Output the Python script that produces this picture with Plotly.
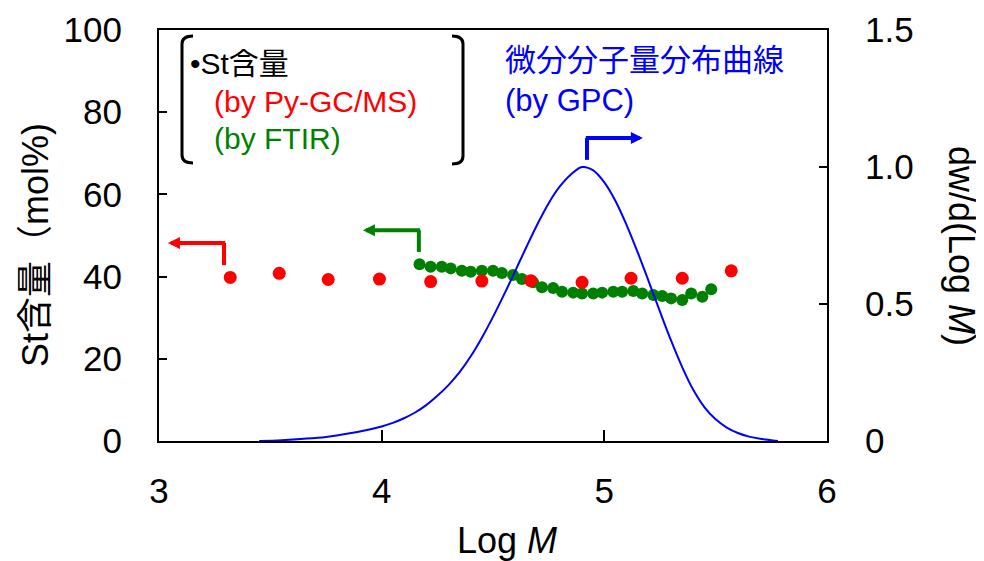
import plotly.graph_objects as go

# ---------------- data ----------------
pygc_logm = [3.32, 3.54, 3.76, 3.99, 4.22, 4.45, 4.67, 4.90, 5.12, 5.35, 5.57]
pygc_st = [39.8, 40.8, 39.3, 39.4, 38.8, 38.9, 39.0, 38.6, 39.6, 39.6, 41.4]

ftir_logm = [4.17, 4.22, 4.27, 4.31, 4.36, 4.40, 4.45, 4.50, 4.54, 4.59,
             4.63, 4.68, 4.72, 4.77, 4.81, 4.86, 4.90, 4.95, 4.99, 5.04,
             5.08, 5.13, 5.17, 5.22, 5.26, 5.30, 5.35, 5.39, 5.44, 5.48]
ftir_st = [43.0, 42.4, 42.4, 42.0, 41.4, 41.2, 41.4, 41.4, 40.9, 40.4,
           39.4, 38.6, 37.4, 37.2, 36.3, 36.1, 35.9, 35.9, 36.1, 36.3,
           36.3, 36.5, 35.9, 35.5, 35.3, 34.7, 34.3, 35.9, 35.1, 36.9]

gpc_logm = [3.45, 3.55, 3.65, 3.75, 3.85, 3.95, 4.00, 4.05, 4.10, 4.15, 4.20, 4.25,
            4.30, 4.35, 4.40, 4.45, 4.50, 4.55, 4.60, 4.65, 4.70, 4.75, 4.80, 4.85,
            4.90, 4.95, 5.00, 5.05, 5.10, 5.15, 5.20, 5.25, 5.30, 5.35, 5.40, 5.45,
            5.50, 5.55, 5.60, 5.65, 5.70, 5.78]
gpc_dw = [0.000, 0.003, 0.008, 0.015, 0.027, 0.043, 0.053, 0.066, 0.083, 0.104, 0.131, 0.165,
          0.204, 0.251, 0.309, 0.377, 0.453, 0.535, 0.621, 0.708, 0.792, 0.868, 0.929, 0.973,
          1.000, 0.988, 0.944, 0.876, 0.788, 0.688, 0.581, 0.472, 0.366, 0.269, 0.186, 0.123,
          0.079, 0.049, 0.029, 0.016, 0.008, 0.000]

x_ticks = [3, 4, 5, 6]
y_ticks = [0, 20, 40, 60, 80, 100]
y2_ticks = [0, 0.5, 1.0, 1.5]
y2_ticktext = ["0", "0.5", "1.0", "1.5"]

# ---------------- layout geometry (page pixels) ----------------
OFF = 8                      # default body margin of the page
W, H = 984 - OFF, 561 - OFF
L, R, T, B = 159, 827, 30, 441
FONT = "Liberation Sans, Arial, Noto Sans CJK JP, sans-serif"
RED, GREEN, BLUE = "#FF0000", "#008000", "#0000FF"


def px(xp):
    return (xp - L) / (R - L)


def py(yp):
    return (B - yp) / (B - T)


fig = go.Figure()
fig.add_trace(go.Scatter(x=ftir_logm, y=ftir_st, mode="markers",
                         marker=dict(color=GREEN, size=12), showlegend=False))
fig.add_trace(go.Scatter(x=pygc_logm, y=pygc_st, mode="markers",
                         marker=dict(color=RED, size=13), showlegend=False))
fig.add_trace(go.Scatter(x=gpc_logm, y=gpc_dw, mode="lines", yaxis="y2",
                         line=dict(color=BLUE, width=2, shape="spline", smoothing=1.0),
                         showlegend=False))

axis_font = dict(family=FONT, size=35, color="black")

fig.update_layout(
    width=W, height=H,
    margin=dict(l=L - OFF, r=W - (R - OFF), t=T - OFF, b=H - (B - OFF), pad=0,
                autoexpand=False),
    plot_bgcolor="white", paper_bgcolor="white",
    font=dict(family=FONT, color="black"),
    xaxis=dict(range=[3, 6], tickvals=x_ticks, ticks="inside", ticklen=11, tickwidth=1.5,
               tickcolor="black", showline=True, linecolor="black", linewidth=2,
               mirror=True, showgrid=False, zeroline=False, tickfont=axis_font,
               ticklabelstandoff=18, automargin=False),
    yaxis=dict(range=[0, 100], tickvals=y_ticks, ticks="inside", ticklen=8, tickwidth=1.5,
               tickcolor="black", showline=True, linecolor="black", linewidth=2,
               showgrid=False, zeroline=False, tickfont=axis_font, ticklabelstandoff=28,
               automargin=False),
    yaxis2=dict(range=[0, 1.5], tickvals=y2_ticks, ticktext=y2_ticktext, overlaying="y",
                side="right", ticks="inside", ticklen=8, tickwidth=1.5, tickcolor="black",
                showline=True, linecolor="black", linewidth=2, showgrid=False,
                zeroline=False, tickfont=axis_font, ticklabelstandoff=29, automargin=False),
)

annotations = []
title_font = dict(family=FONT, size=36, color="black")
annotations.append(dict(text="St含量（mol%)", xref="paper", yref="paper", x=px(35), y=py(245),
                        textangle=-90, showarrow=False, font=title_font,
                        xanchor="center", yanchor="middle"))
annotations.append(dict(text="dw/d(Log <i>M</i>)", xref="paper", yref="paper", x=px(962), y=py(246),
                        textangle=90, showarrow=False, font=title_font,
                        xanchor="center", yanchor="middle"))
annotations.append(dict(text="Log <i>M</i>", xref="paper", yref="paper", x=px(507), y=py(540),
                        showarrow=False, font=title_font, xanchor="center", yanchor="middle"))

leg_font = 30
annotations.append(dict(text="•St含量", xref="paper", yref="paper", x=px(188), y=py(63),
                        showarrow=False, xanchor="left", yanchor="middle",
                        font=dict(family=FONT, size=leg_font, color="black")))
annotations.append(dict(text="(by Py-GC/MS)", xref="paper", yref="paper", x=px(212), y=py(101),
                        showarrow=False, xanchor="left", yanchor="middle",
                        font=dict(family=FONT, size=leg_font, color=RED)))
annotations.append(dict(text="(by FTIR)", xref="paper", yref="paper", x=px(212), y=py(138),
                        showarrow=False, xanchor="left", yanchor="middle",
                        font=dict(family=FONT, size=leg_font, color=GREEN)))
annotations.append(dict(text="微分分子量分布曲線", xref="paper", yref="paper", x=px(503), y=py(60),
                        showarrow=False, xanchor="left", yanchor="middle",
                        font=dict(family=FONT, size=31, color=BLUE)))
annotations.append(dict(text="(by GPC)", xref="paper", yref="paper", x=px(503), y=py(100),
                        showarrow=False, xanchor="left", yanchor="middle",
                        font=dict(family=FONT, size=31, color=BLUE)))

# L-shaped pointer arrows (decorations)
shapes = []


def l_arrow(xv, y0, y1, xtip, color):
    shapes.append(dict(type="line", xref="x", yref="y", x0=xv, x1=xv, y0=y0, y1=y1,
                       line=dict(color=color, width=4)))
    annotations.append(dict(text="", x=xtip, y=y1, ax=xv - (0.012 if xtip > xv else -0.012), ay=y1,
                            xref="x", yref="y", axref="x", ayref="y", showarrow=True,
                            arrowhead=2, arrowsize=0.6, arrowwidth=4, arrowcolor=color,
                            standoff=0, startstandoff=0))


l_arrow(3.292, 42.8, 48.2, 3.04, RED)
l_arrow(4.167, 46.0, 51.3, 3.916, GREEN)
l_arrow(4.922, 68.4, 73.7, 5.173, BLUE)


# bracket decorations of the legend box
def bracket(xv, xe, ytop, ybot):
    r = 8
    path = (f"M {px(xe)} {py(ytop)} Q {px(xv)} {py(ytop)} {px(xv)} {py(ytop + r)} "
            f"L {px(xv)} {py(ybot - r)} Q {px(xv)} {py(ybot)} {px(xe)} {py(ybot)}")
    shapes.append(dict(type="path", xref="paper", yref="paper", path=path,
                       line=dict(color="black", width=3)))


bracket(182, 193, 36, 163)
bracket(463, 452, 36, 164)

fig.update_layout(annotations=annotations, shapes=shapes)
fig.write_html("out.html")
